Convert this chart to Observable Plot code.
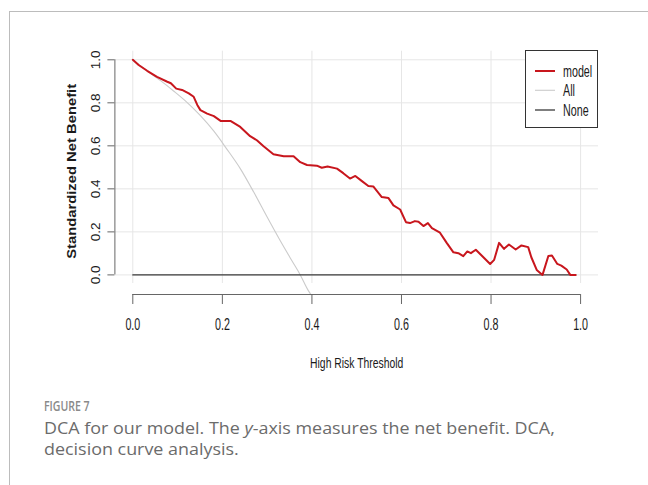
<!DOCTYPE html>
<html><head><meta charset="utf-8">
<script src="https://cdn.jsdelivr.net/npm/d3@7"></script>
<script src="https://cdn.jsdelivr.net/npm/@observablehq/plot@0.6"></script>
<style>
body{margin:0;background:#fff;}
#wrap{position:relative;width:648px;height:485px;overflow:hidden;background:#fff;}
#frame{position:absolute;left:9px;top:11px;width:700px;height:600px;border-left:1px solid #bcbcbc;border-top:1px solid #bcbcbc;}
#chart{position:absolute;left:0;top:0;}
#legend{position:absolute;left:525px;top:50px;}
.cap{position:absolute;left:44px;font-family:"Open Sans",sans-serif;white-space:nowrap;transform-origin:0 0;}
#fig{top:397.2px;font-size:13.5px;line-height:18px;font-weight:600;color:#8a8a8a;transform:scaleX(0.78);}
#l1,#l2{font-size:15.5px;line-height:20.7px;color:#6b6b6b;transform:scaleX(1.155);}
#l1{top:417.9px;}
#l2{top:438.6px;}
</style></head><body>
<div id="wrap"><div id="frame"></div><div id="chart"></div><svg id="legend" width="74" height="80"></svg>
<div class="cap" id="fig">FIGURE 7</div>
<div class="cap" id="l1">DCA for our model. The <i>y</i>-axis measures the net benefit. DCA,</div>
<div class="cap" id="l2">decision curve analysis.</div>
</div>
<script>
const modelThreshold = [0.000,0.013,0.032,0.054,0.077,0.085,0.097,0.110,0.125,0.136,0.144,0.151,0.166,0.181,0.196,0.218,0.240,0.262,0.277,0.292,0.314,0.337,0.359,0.374,0.389,0.411,0.422,0.435,0.456,0.470,0.485,0.497,0.511,0.526,0.537,0.556,0.571,0.582,0.597,0.610,0.619,0.630,0.638,0.649,0.659,0.668,0.686,0.701,0.716,0.727,0.738,0.747,0.755,0.766,0.779,0.798,0.807,0.818,0.829,0.840,0.855,0.868,0.883,0.890,0.902,0.915,0.928,0.936,0.948,0.957,0.969,0.977,0.989];
const modelNB = [1.000,0.976,0.949,0.921,0.898,0.891,0.866,0.860,0.844,0.828,0.790,0.766,0.750,0.738,0.716,0.716,0.688,0.645,0.626,0.598,0.561,0.552,0.552,0.524,0.511,0.508,0.498,0.504,0.494,0.473,0.448,0.460,0.437,0.413,0.411,0.362,0.357,0.323,0.304,0.245,0.241,0.250,0.247,0.227,0.241,0.217,0.196,0.149,0.105,0.101,0.087,0.109,0.101,0.117,0.090,0.051,0.070,0.149,0.121,0.141,0.118,0.137,0.129,0.082,0.023,0.000,0.088,0.090,0.051,0.043,0.025,0.000,0.000];
const allThreshold = [0.000,0.030,0.046,0.062,0.091,0.121,0.151,0.181,0.210,0.240,0.270,0.300,0.329,0.355,0.374,0.392,0.398];
const allNB = [1.000,0.952,0.927,0.903,0.855,0.802,0.740,0.668,0.585,0.494,0.385,0.269,0.160,0.067,0.000,-0.073,-0.092];
const noneThreshold = [0.000,0.989];
const noneNB = [0.000,0.000];
const xTicks = [0.0,0.2,0.4,0.6,0.8,1.0];
const yTicks = [0.0,0.2,0.4,0.6,0.8,1.0];
const seriesNames = ["model","All","None"];
const seriesColors = ["#c8161d","#cbcbcb","#3a3a3a"];
const xTitle = "High Risk Threshold";
const yTitle = "Standardized Net Benefit";
const xLim = [-0.04,1.04];
const yLim = [-0.04,1.04];

const model = modelThreshold.map((t,i)=>({t, v:modelNB[i]}));
const all = allThreshold.map((t,i)=>({t, v:allNB[i]}));
const none = noneThreshold.map((t,i)=>({t, v:noneNB[i]}));
const fmt = d3.format(".1f");

const svg = Plot.plot({
  width:648, height:390,
  marginLeft:114.4, marginRight:50, marginTop:50.7, marginBottom:107,
  x:{domain:xLim, axis:null}, y:{domain:yLim, axis:null},
  style:{fontFamily:"'Liberation Sans', Arial, sans-serif", background:"transparent", overflow:"visible"},
  marks:[
    Plot.gridX(xTicks,{stroke:"#e6e6e6", strokeOpacity:1}),
    Plot.gridY(yTicks,{stroke:"#e6e6e6", strokeOpacity:1}),
    Plot.line(all,{x:"t", y:"v", stroke:seriesColors[1], strokeWidth:1.1, curve:"monotone-x"}),
    Plot.line(none,{x:"t", y:"v", stroke:seriesColors[2], strokeWidth:1.3}),
    Plot.line(model,{x:"t", y:"v", stroke:seriesColors[0], strokeWidth:2}),
    // y axis
    Plot.ruleX([xLim[0]],{y1:yTicks[0], y2:yTicks[yTicks.length-1], stroke:"#666"}),
    Plot.ruleY(yTicks,{x1:xLim[0], x2:xLim[0], insetLeft:-7, stroke:"#666"}),
    Plot.text(yTicks,{y:d=>d, frameAnchor:"left", dx:-18.6, rotate:-90, text:fmt, fontSize:13.5, fill:"#1a1a1a", lineAnchor:"middle", textAnchor:"middle"}),
    Plot.text([yTitle],{frameAnchor:"left", dx:-42.4, dy:4, rotate:-90, text:d=>d, fontSize:14.8, fontWeight:"bold", fill:"#1a1a1a", lineAnchor:"middle", textAnchor:"middle"}),
    // x axis
    Plot.ruleY([yLim[0]],{x1:xTicks[0], x2:xTicks[xTicks.length-1], dy:11, stroke:"#666"}),
    Plot.ruleX(xTicks,{y1:yLim[0], y2:yLim[0], insetBottom:-10, dy:11, stroke:"#666"}),
    Plot.text(xTicks,{x:d=>d, frameAnchor:"bottom", dy:41, text:fmt, fontSize:16, fill:"#1a1a1a", lineAnchor:"middle"}),
    Plot.text([xTitle],{frameAnchor:"bottom", dy:80, text:d=>d, fontSize:15.5, fill:"#1a1a1a", lineAnchor:"middle"})
  ]
});
document.getElementById("chart").appendChild(svg);

function squash(group, s){
  Array.from(group.querySelectorAll("text")).forEach(t=>{
    const g = document.createElementNS("http://www.w3.org/2000/svg","g");
    t.parentNode.insertBefore(g,t);
    g.appendChild(t);
    const bb = g.getBBox();
    const cx = bb.x + bb.width/2;
    g.setAttribute("transform", `translate(${cx},0) scale(${s},1) translate(${-cx},0)`);
  });
}
const textGroups = svg.querySelectorAll(':scope > g[aria-label="text"]');
const squashFactors = [0.88, 0.85, 0.67, 0.67];
textGroups.forEach((g,i)=>squash(g, squashFactors[i]));

// legend
const lg = d3.select("#legend");
lg.append("rect").attr("x",0.5).attr("y",0.5).attr("width",72).attr("height",77)
  .attr("fill","#fff").attr("stroke","#333").attr("stroke-width",1);
const rowY = [21,40.3,60];
const lw = [2,1.1,1.3];
seriesNames.forEach((n,i)=>{
  lg.append("line").attr("x1",10).attr("x2",30).attr("y1",rowY[i]).attr("y2",rowY[i])
    .attr("stroke",seriesColors[i]).attr("stroke-width",lw[i]);
  lg.append("text").attr("transform",`translate(38,${rowY[i]}) scale(0.67,1)`)
    .attr("dy","0.35em").attr("font-family","'Liberation Sans', Arial, sans-serif")
    .attr("font-size",16).attr("fill","#1a1a1a").text(n);
});
</script>
</body></html>
